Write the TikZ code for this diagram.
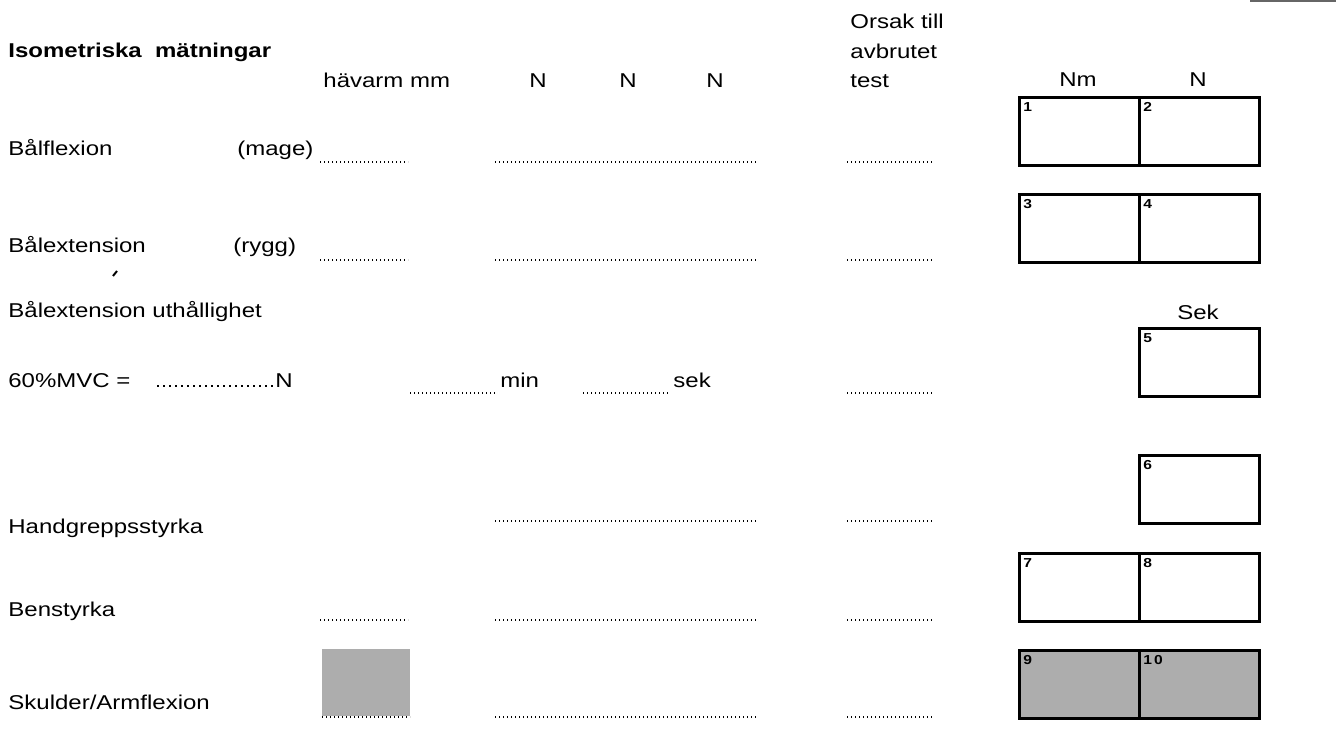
\documentclass[tikz,border=0pt]{standalone}
\usepackage{fontspec}
\setmainfont{Liberation Sans}[FakeStretch=1.2]
\usetikzlibrary{positioning}

\begin{document}
\begin{tikzpicture}[x=0.5pt,y=-0.5pt,
  lbl/.style={anchor=base west,inner sep=0pt,font=\fontsize{10}{12}\selectfont},
  unit/.style={lbl,anchor=base},
  head/.style={lbl,font=\fontsize{10}{12}\selectfont\bfseries},
  fillin/.style={line width=0.9pt,dash pattern=on 0.7pt off 1.3pt},
  cell/.style={draw,line width=1.4pt,anchor=north west,minimum width=60pt,minimum height=34pt,inner sep=0pt},
  greycell/.style={cell,fill=black!32},
  cellno/.style={anchor=north west,inner sep=0pt,font=\fontsize{6.5}{7}\selectfont\bfseries}]

  \useasboundingbox (0,0) rectangle (1336,742);

  % header
  \node[head] (title) at (8,58) {Isometriska\ \ mätningar};
  \node[lbl] (lever) at (323,88) {hävarm mm};
  \node[unit] (force1) at (538,88) {N};
  \node[unit] (force2) at (628,88) {N};
  \node[unit] (force3) at (715,88) {N};
  \node[lbl] (reason1) at (850,29) {Orsak till};
  \node[lbl] (reason2) at (850,59) {avbrutet};
  \node[lbl] (reason3) at (850,88) {test};
  \node[unit] (torque) at (1078,87) {Nm};
  \node[unit] (newton) at (1198,87) {N};
  \node[unit] (seconds) at (1198,320) {Sek};

  % row labels
  \node[lbl] (flex) at (8,156) {Bålflexion};
  \node[lbl] (mage) at (237,156) {(mage)};
  \node[lbl] (ext) at (8,253) {Bålextension};
  \node[lbl] (rygg) at (233,253) {(rygg)};
  \node[lbl] (endur) at (8,318) {Bålextension uthållighet};
  \node[lbl] (mvc) at (8,387) {60\%MVC =};
  \node[lbl] (mvcN) at (275,387) {N};
  \node[lbl] (mins) at (500,387) {min};
  \node[lbl] (secs) at (673,387) {sek};
  \node[lbl] (grip) at (8,533) {Handgreppsstyrka};
  \node[lbl] (leg) at (8,616) {Benstyrka};
  \node[lbl] (arm) at (8,709) {Skulder/Armflexion};

  % fill-in lines
  \draw[fillin] (320,162) -- (408,162)  (495,162) -- (758,162)  (847,162) -- (933,162);
  \draw[fillin] (320,260) -- (408,260)  (495,260) -- (758,260)  (847,260) -- (933,260);
  \draw[fillin,line width=1.2pt,dash pattern=on 1pt off 2pt] (157,386) -- (273,386);
  \draw[fillin] (410,393) -- (495,393)  (583,393) -- (668,393)  (847,393) -- (933,393);
  \draw[fillin] (495,521) -- (758,521)  (847,521) -- (933,521);
  \draw[fillin] (320,620) -- (408,620)  (495,620) -- (758,620)  (847,620) -- (933,620);
  \fill[black!32] (322,649) rectangle (410,716);
  \draw[fillin,line width=1.3pt] (322,717) -- (410,717);
  \draw[fillin] (495,717) -- (758,717)  (847,717) -- (933,717);

  % answer boxes
  \foreach \n/\x/\y in {1/1018/96,2/1138/96,3/1018/193,4/1138/193,5/1138/327,6/1138/454,7/1018/552,8/1138/552}{
    \node[cell] (c\n) at (\x,\y) {};
    \node[cellno] (n\n) at ([shift={(5,6)}]c\n.north west) {\n};
  }
  \node[greycell] (c9) at (1018,649) {};
  \node[greycell] (c10) at (1138,649) {};
  \node[cellno] (n9) at ([shift={(5,6)}]c9.north west) {9};
  \node[cellno] (n10) at ([shift={(5,6)}]c10.north west) {1\,0};

  % scan marks
  \draw[black!60,line width=1pt] (1250,1) -- (1336,1);
  \draw[line width=1pt] (113,276) -- (117,271);

\end{tikzpicture}
\end{document}
